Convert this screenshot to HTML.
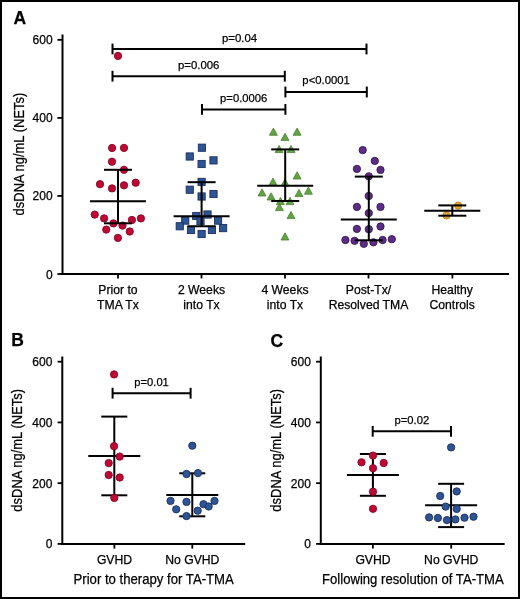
<!DOCTYPE html>
<html><head><meta charset="utf-8"><style>
html,body{margin:0;padding:0;background:#fff;}
svg{display:block;will-change:transform;}
text{font-family:"Liberation Sans",sans-serif;fill:#000;stroke:#000;stroke-width:0.25px;}
</style></head><body>
<svg width="520" height="599" viewBox="0 0 520 599">
<rect x="0" y="0" width="520" height="599" fill="#fff"/>
<text x="13.5" y="24" font-size="17.5" text-anchor="start" font-weight="bold">A</text>
<line x1="62.5" y1="34.5" x2="62.5" y2="275" stroke="#000" stroke-width="2"/>
<line x1="61.5" y1="274" x2="509" y2="274" stroke="#000" stroke-width="2"/>
<line x1="57.4" y1="274.0" x2="62.5" y2="274.0" stroke="#000" stroke-width="1.8"/>
<text x="52.6" y="278.5" font-size="12" text-anchor="end" >0</text>
<line x1="57.4" y1="195.94" x2="62.5" y2="195.94" stroke="#000" stroke-width="1.8"/>
<text x="52.6" y="200.44" font-size="12" text-anchor="end" >200</text>
<line x1="57.4" y1="117.88" x2="62.5" y2="117.88" stroke="#000" stroke-width="1.8"/>
<text x="52.6" y="122.38" font-size="12" text-anchor="end" >400</text>
<line x1="57.4" y1="39.82" x2="62.5" y2="39.82" stroke="#000" stroke-width="1.8"/>
<text x="52.6" y="44.32" font-size="12" text-anchor="end" >600</text>
<line x1="118" y1="274" x2="118" y2="278.5" stroke="#000" stroke-width="1.8"/>
<line x1="201.5" y1="274" x2="201.5" y2="278.5" stroke="#000" stroke-width="1.8"/>
<line x1="285" y1="274" x2="285" y2="278.5" stroke="#000" stroke-width="1.8"/>
<line x1="368.5" y1="274" x2="368.5" y2="278.5" stroke="#000" stroke-width="1.8"/>
<line x1="452.4" y1="274" x2="452.4" y2="278.5" stroke="#000" stroke-width="1.8"/>
<text x="118" y="293.8" font-size="12.2" text-anchor="middle" >Prior to</text>
<text x="118" y="308.6" font-size="12.2" text-anchor="middle" >TMA Tx</text>
<text x="201.5" y="293.8" font-size="12.2" text-anchor="middle" >2 Weeks</text>
<text x="201.5" y="308.6" font-size="12.2" text-anchor="middle" >into Tx</text>
<text x="285" y="293.8" font-size="12.2" text-anchor="middle" >4 Weeks</text>
<text x="285" y="308.6" font-size="12.2" text-anchor="middle" >into Tx</text>
<text x="368.5" y="293.8" font-size="12.2" text-anchor="middle" >Post-Tx/</text>
<text x="368.5" y="308.6" font-size="12.2" text-anchor="middle" >Resolved TMA</text>
<text x="452.2" y="293.8" font-size="12.2" text-anchor="middle" >Healthy</text>
<text x="452.2" y="308.6" font-size="12.2" text-anchor="middle" >Controls</text>
<text x="0" y="0" font-size="14.5" text-anchor="middle" textLength="122.7" lengthAdjust="spacingAndGlyphs" transform="translate(24.3 154.05) rotate(-90)">dsDNA ng/mL (NETs)</text>
<circle cx="118" cy="55.9" r="3.65" fill="#bd0a35" stroke="#8a0426" stroke-width="0.9"/>
<circle cx="112.1" cy="148.0" r="3.65" fill="#bd0a35" stroke="#8a0426" stroke-width="0.9"/>
<circle cx="124" cy="147.9" r="3.65" fill="#bd0a35" stroke="#8a0426" stroke-width="0.9"/>
<circle cx="112" cy="161.7" r="3.65" fill="#bd0a35" stroke="#8a0426" stroke-width="0.9"/>
<circle cx="124" cy="169.8" r="3.65" fill="#bd0a35" stroke="#8a0426" stroke-width="0.9"/>
<circle cx="100" cy="184.2" r="3.65" fill="#bd0a35" stroke="#8a0426" stroke-width="0.9"/>
<circle cx="112" cy="188.4" r="3.65" fill="#bd0a35" stroke="#8a0426" stroke-width="0.9"/>
<circle cx="124" cy="185.3" r="3.65" fill="#bd0a35" stroke="#8a0426" stroke-width="0.9"/>
<circle cx="135.7" cy="182.7" r="3.65" fill="#bd0a35" stroke="#8a0426" stroke-width="0.9"/>
<circle cx="94.75" cy="214.6" r="3.65" fill="#bd0a35" stroke="#8a0426" stroke-width="0.9"/>
<circle cx="104.1" cy="218.4" r="3.65" fill="#bd0a35" stroke="#8a0426" stroke-width="0.9"/>
<circle cx="113.4" cy="223.4" r="3.65" fill="#bd0a35" stroke="#8a0426" stroke-width="0.9"/>
<circle cx="122.5" cy="225.6" r="3.65" fill="#bd0a35" stroke="#8a0426" stroke-width="0.9"/>
<circle cx="131.9" cy="220" r="3.65" fill="#bd0a35" stroke="#8a0426" stroke-width="0.9"/>
<circle cx="140.9" cy="218.4" r="3.65" fill="#bd0a35" stroke="#8a0426" stroke-width="0.9"/>
<circle cx="106.25" cy="229.6" r="3.65" fill="#bd0a35" stroke="#8a0426" stroke-width="0.9"/>
<circle cx="129.75" cy="231.5" r="3.65" fill="#bd0a35" stroke="#8a0426" stroke-width="0.9"/>
<circle cx="117.9" cy="237.9" r="3.65" fill="#bd0a35" stroke="#8a0426" stroke-width="0.9"/>
<rect x="198.3" y="144.1" width="7.2" height="7.2" fill="#2f5494" stroke="#1a3060" stroke-width="0.9"/>
<rect x="186.15" y="152.9" width="7.2" height="7.2" fill="#2f5494" stroke="#1a3060" stroke-width="0.9"/>
<rect x="209.9" y="156.8" width="7.2" height="7.2" fill="#2f5494" stroke="#1a3060" stroke-width="0.9"/>
<rect x="198.0" y="160.4" width="7.2" height="7.2" fill="#2f5494" stroke="#1a3060" stroke-width="0.9"/>
<rect x="198.0" y="178.3" width="7.2" height="7.2" fill="#2f5494" stroke="#1a3060" stroke-width="0.9"/>
<rect x="186.15" y="186.1" width="7.2" height="7.2" fill="#2f5494" stroke="#1a3060" stroke-width="0.9"/>
<rect x="209.9" y="190.4" width="7.2" height="7.2" fill="#2f5494" stroke="#1a3060" stroke-width="0.9"/>
<rect x="198.0" y="192.9" width="7.2" height="7.2" fill="#2f5494" stroke="#1a3060" stroke-width="0.9"/>
<rect x="192.65" y="212.4" width="7.2" height="7.2" fill="#2f5494" stroke="#1a3060" stroke-width="0.9"/>
<rect x="203.9" y="210.9" width="7.2" height="7.2" fill="#2f5494" stroke="#1a3060" stroke-width="0.9"/>
<rect x="181.65" y="217.0" width="7.2" height="7.2" fill="#2f5494" stroke="#1a3060" stroke-width="0.9"/>
<rect x="196.9" y="217.4" width="7.2" height="7.2" fill="#2f5494" stroke="#1a3060" stroke-width="0.9"/>
<rect x="214.5" y="217.0" width="7.2" height="7.2" fill="#2f5494" stroke="#1a3060" stroke-width="0.9"/>
<rect x="176.15" y="222.65" width="7.2" height="7.2" fill="#2f5494" stroke="#1a3060" stroke-width="0.9"/>
<rect x="187.4" y="226.4" width="7.2" height="7.2" fill="#2f5494" stroke="#1a3060" stroke-width="0.9"/>
<rect x="208.3" y="226.4" width="7.2" height="7.2" fill="#2f5494" stroke="#1a3060" stroke-width="0.9"/>
<rect x="219.5" y="224.5" width="7.2" height="7.2" fill="#2f5494" stroke="#1a3060" stroke-width="0.9"/>
<rect x="198.0" y="230.4" width="7.2" height="7.2" fill="#2f5494" stroke="#1a3060" stroke-width="0.9"/>
<path d="M273.4 128.1L277.4 135.29999999999998L269.4 135.29999999999998Z" fill="#62a343" stroke="#4a8232" stroke-width="0.8" stroke-linejoin="round"/>
<path d="M297.1 128.1L301.1 135.29999999999998L293.1 135.29999999999998Z" fill="#62a343" stroke="#4a8232" stroke-width="0.8" stroke-linejoin="round"/>
<path d="M285 133.20000000000002L289.0 140.4L281.0 140.4Z" fill="#62a343" stroke="#4a8232" stroke-width="0.8" stroke-linejoin="round"/>
<path d="M279.1 145.4L283.1 152.6L275.1 152.6Z" fill="#62a343" stroke="#4a8232" stroke-width="0.8" stroke-linejoin="round"/>
<path d="M291 145.4L295.0 152.6L287.0 152.6Z" fill="#62a343" stroke="#4a8232" stroke-width="0.8" stroke-linejoin="round"/>
<path d="M297.1 171.8L301.1 179.0L293.1 179.0Z" fill="#62a343" stroke="#4a8232" stroke-width="0.8" stroke-linejoin="round"/>
<path d="M273 178.1L277.0 185.29999999999998L269.0 185.29999999999998Z" fill="#62a343" stroke="#4a8232" stroke-width="0.8" stroke-linejoin="round"/>
<path d="M285 178.8L289.0 186.0L281.0 186.0Z" fill="#62a343" stroke="#4a8232" stroke-width="0.8" stroke-linejoin="round"/>
<path d="M262 188.8L266.0 196.0L258.0 196.0Z" fill="#62a343" stroke="#4a8232" stroke-width="0.8" stroke-linejoin="round"/>
<path d="M271 192.8L275.0 200.0L267.0 200.0Z" fill="#62a343" stroke="#4a8232" stroke-width="0.8" stroke-linejoin="round"/>
<path d="M299 189.4L303.0 196.6L295.0 196.6Z" fill="#62a343" stroke="#4a8232" stroke-width="0.8" stroke-linejoin="round"/>
<path d="M308.4 187.0L312.4 194.2L304.4 194.2Z" fill="#62a343" stroke="#4a8232" stroke-width="0.8" stroke-linejoin="round"/>
<path d="M280.4 197.4L284.4 204.6L276.4 204.6Z" fill="#62a343" stroke="#4a8232" stroke-width="0.8" stroke-linejoin="round"/>
<path d="M290 197.4L294.0 204.6L286.0 204.6Z" fill="#62a343" stroke="#4a8232" stroke-width="0.8" stroke-linejoin="round"/>
<path d="M279.4 203.4L283.4 210.6L275.4 210.6Z" fill="#62a343" stroke="#4a8232" stroke-width="0.8" stroke-linejoin="round"/>
<path d="M291 211.4L295.0 218.6L287.0 218.6Z" fill="#62a343" stroke="#4a8232" stroke-width="0.8" stroke-linejoin="round"/>
<path d="M285 232.8L289.0 240.0L281.0 240.0Z" fill="#62a343" stroke="#4a8232" stroke-width="0.8" stroke-linejoin="round"/>
<circle cx="362.7" cy="150.1" r="3.65" fill="#5e2c85" stroke="#3a1656" stroke-width="0.9"/>
<circle cx="374.8" cy="160.9" r="3.65" fill="#5e2c85" stroke="#3a1656" stroke-width="0.9"/>
<circle cx="356.9" cy="168.9" r="3.65" fill="#5e2c85" stroke="#3a1656" stroke-width="0.9"/>
<circle cx="380.5" cy="169.9" r="3.65" fill="#5e2c85" stroke="#3a1656" stroke-width="0.9"/>
<circle cx="368.8" cy="176.3" r="3.65" fill="#5e2c85" stroke="#3a1656" stroke-width="0.9"/>
<circle cx="368.8" cy="196" r="3.65" fill="#5e2c85" stroke="#3a1656" stroke-width="0.9"/>
<circle cx="356.9" cy="206.9" r="3.65" fill="#5e2c85" stroke="#3a1656" stroke-width="0.9"/>
<circle cx="380.5" cy="206.9" r="3.65" fill="#5e2c85" stroke="#3a1656" stroke-width="0.9"/>
<circle cx="368.8" cy="213.1" r="3.65" fill="#5e2c85" stroke="#3a1656" stroke-width="0.9"/>
<circle cx="356.9" cy="228.9" r="3.65" fill="#5e2c85" stroke="#3a1656" stroke-width="0.9"/>
<circle cx="368.8" cy="229.2" r="3.65" fill="#5e2c85" stroke="#3a1656" stroke-width="0.9"/>
<circle cx="380.5" cy="226.5" r="3.65" fill="#5e2c85" stroke="#3a1656" stroke-width="0.9"/>
<circle cx="345.4" cy="240" r="3.65" fill="#5e2c85" stroke="#3a1656" stroke-width="0.9"/>
<circle cx="354.6" cy="240.8" r="3.65" fill="#5e2c85" stroke="#3a1656" stroke-width="0.9"/>
<circle cx="363.8" cy="243.8" r="3.65" fill="#5e2c85" stroke="#3a1656" stroke-width="0.9"/>
<circle cx="373.4" cy="242.3" r="3.65" fill="#5e2c85" stroke="#3a1656" stroke-width="0.9"/>
<circle cx="382.6" cy="240" r="3.65" fill="#5e2c85" stroke="#3a1656" stroke-width="0.9"/>
<circle cx="391.8" cy="239.2" r="3.65" fill="#5e2c85" stroke="#3a1656" stroke-width="0.9"/>
<circle cx="458.1" cy="205.6" r="3.65" fill="#e3a332" stroke="#c4851f" stroke-width="0.9"/>
<circle cx="446.5" cy="215.4" r="3.65" fill="#e3a332" stroke="#c4851f" stroke-width="0.9"/>
<line x1="118" y1="169.8" x2="118" y2="223.3" stroke="#000" stroke-width="2"/>
<line x1="104.0" y1="169.8" x2="132.0" y2="169.8" stroke="#000" stroke-width="2"/>
<line x1="104.0" y1="223.3" x2="132.0" y2="223.3" stroke="#000" stroke-width="2"/>
<line x1="90.0" y1="201.2" x2="146.0" y2="201.2" stroke="#000" stroke-width="2"/>
<line x1="201.6" y1="182.2" x2="201.6" y2="226.25" stroke="#000" stroke-width="2"/>
<line x1="187.6" y1="182.2" x2="215.6" y2="182.2" stroke="#000" stroke-width="2"/>
<line x1="187.6" y1="226.25" x2="215.6" y2="226.25" stroke="#000" stroke-width="2"/>
<line x1="173.6" y1="216.25" x2="229.6" y2="216.25" stroke="#000" stroke-width="2"/>
<line x1="285.2" y1="149.4" x2="285.2" y2="201" stroke="#000" stroke-width="2"/>
<line x1="271.2" y1="149.4" x2="299.2" y2="149.4" stroke="#000" stroke-width="2"/>
<line x1="271.2" y1="201" x2="299.2" y2="201" stroke="#000" stroke-width="2"/>
<line x1="257.2" y1="185.7" x2="313.2" y2="185.7" stroke="#000" stroke-width="2"/>
<line x1="368.8" y1="176.6" x2="368.8" y2="240.3" stroke="#000" stroke-width="2"/>
<line x1="354.8" y1="176.6" x2="382.8" y2="176.6" stroke="#000" stroke-width="2"/>
<line x1="354.8" y1="240.3" x2="382.8" y2="240.3" stroke="#000" stroke-width="2"/>
<line x1="340.8" y1="219.5" x2="396.8" y2="219.5" stroke="#000" stroke-width="2"/>
<line x1="452.3" y1="205.4" x2="452.3" y2="215.7" stroke="#000" stroke-width="2"/>
<line x1="438.3" y1="205.4" x2="466.3" y2="205.4" stroke="#000" stroke-width="2"/>
<line x1="438.3" y1="215.7" x2="466.3" y2="215.7" stroke="#000" stroke-width="2"/>
<line x1="424.3" y1="210.8" x2="480.3" y2="210.8" stroke="#000" stroke-width="2"/>
<line x1="112.5" y1="49" x2="366.5" y2="49" stroke="#000" stroke-width="2"/>
<line x1="112.5" y1="43.6" x2="112.5" y2="54.4" stroke="#000" stroke-width="2"/>
<line x1="366.5" y1="43.6" x2="366.5" y2="54.4" stroke="#000" stroke-width="2"/>
<text x="239.5" y="41.9" font-size="11.5" text-anchor="middle" textLength="35.2" lengthAdjust="spacingAndGlyphs">p=0.04</text>
<line x1="112.5" y1="76.2" x2="284.8" y2="76.2" stroke="#000" stroke-width="2"/>
<line x1="112.5" y1="70.8" x2="112.5" y2="81.60000000000001" stroke="#000" stroke-width="2"/>
<line x1="284.8" y1="70.8" x2="284.8" y2="81.60000000000001" stroke="#000" stroke-width="2"/>
<text x="198.65" y="68.5" font-size="11.5" text-anchor="middle" textLength="41.5" lengthAdjust="spacingAndGlyphs">p=0.006</text>
<line x1="202" y1="109.4" x2="285.4" y2="109.4" stroke="#000" stroke-width="2"/>
<line x1="202" y1="104.0" x2="202" y2="114.80000000000001" stroke="#000" stroke-width="2"/>
<line x1="285.4" y1="104.0" x2="285.4" y2="114.80000000000001" stroke="#000" stroke-width="2"/>
<text x="243.7" y="102.2" font-size="11.5" text-anchor="middle" textLength="47.2" lengthAdjust="spacingAndGlyphs">p=0.0006</text>
<line x1="285.4" y1="92" x2="366.8" y2="92" stroke="#000" stroke-width="2"/>
<line x1="285.4" y1="86.6" x2="285.4" y2="97.4" stroke="#000" stroke-width="2"/>
<line x1="366.8" y1="86.6" x2="366.8" y2="97.4" stroke="#000" stroke-width="2"/>
<text x="326.1" y="84.4" font-size="11.5" text-anchor="middle" textLength="47.5" lengthAdjust="spacingAndGlyphs">p&lt;0.0001</text>
<text x="11.3" y="345.8" font-size="17.5" text-anchor="start" font-weight="bold">B</text>
<line x1="62.3" y1="356.5" x2="62.3" y2="544.9" stroke="#000" stroke-width="2"/>
<line x1="61.3" y1="543.9" x2="245.2" y2="543.9" stroke="#000" stroke-width="2"/>
<line x1="57.6" y1="543.9" x2="62.3" y2="543.9" stroke="#000" stroke-width="1.8"/>
<text x="52.4" y="548.4" font-size="12" text-anchor="end" >0</text>
<line x1="57.6" y1="483.17" x2="62.3" y2="483.17" stroke="#000" stroke-width="1.8"/>
<text x="52.4" y="487.67" font-size="12" text-anchor="end" >200</text>
<line x1="57.6" y1="422.43" x2="62.3" y2="422.43" stroke="#000" stroke-width="1.8"/>
<text x="52.4" y="426.93" font-size="12" text-anchor="end" >400</text>
<line x1="57.6" y1="361.7" x2="62.3" y2="361.7" stroke="#000" stroke-width="1.8"/>
<text x="52.4" y="366.2" font-size="12" text-anchor="end" >600</text>
<line x1="114.4" y1="543.9" x2="114.4" y2="548.6" stroke="#000" stroke-width="1.8"/>
<line x1="192.3" y1="543.9" x2="192.3" y2="548.6" stroke="#000" stroke-width="1.8"/>
<text x="114.5" y="564.1" font-size="12.2" text-anchor="middle" >GVHD</text>
<text x="192.3" y="564.1" font-size="12.2" text-anchor="middle" >No GVHD</text>
<text x="73.5" y="583.6" font-size="14.5" text-anchor="start" textLength="160.3" lengthAdjust="spacingAndGlyphs">Prior to therapy for TA-TMA</text>
<text x="0" y="0" font-size="14.5" text-anchor="middle" textLength="122.7" lengthAdjust="spacingAndGlyphs" transform="translate(21.9 450.3) rotate(-90)">dsDNA ng/mL (NETs)</text>
<line x1="114.3" y1="416.6" x2="114.3" y2="495.3" stroke="#000" stroke-width="2"/>
<line x1="101.3" y1="416.6" x2="127.3" y2="416.6" stroke="#000" stroke-width="2"/>
<line x1="101.3" y1="495.3" x2="127.3" y2="495.3" stroke="#000" stroke-width="2"/>
<line x1="88.3" y1="456.1" x2="140.3" y2="456.1" stroke="#000" stroke-width="2"/>
<line x1="192.3" y1="473.3" x2="192.3" y2="516.3" stroke="#000" stroke-width="2"/>
<line x1="179.3" y1="473.3" x2="205.3" y2="473.3" stroke="#000" stroke-width="2"/>
<line x1="179.3" y1="516.3" x2="205.3" y2="516.3" stroke="#000" stroke-width="2"/>
<line x1="166.3" y1="494.9" x2="218.3" y2="494.9" stroke="#000" stroke-width="2"/>
<circle cx="114.05" cy="374.4" r="3.65" fill="#bd0a35" stroke="#8a0426" stroke-width="0.9"/>
<circle cx="114.05" cy="446.2" r="3.65" fill="#bd0a35" stroke="#8a0426" stroke-width="0.9"/>
<circle cx="119.7" cy="456.6" r="3.65" fill="#bd0a35" stroke="#8a0426" stroke-width="0.9"/>
<circle cx="108.7" cy="463.1" r="3.65" fill="#bd0a35" stroke="#8a0426" stroke-width="0.9"/>
<circle cx="108.7" cy="475" r="3.65" fill="#bd0a35" stroke="#8a0426" stroke-width="0.9"/>
<circle cx="119.7" cy="477.5" r="3.65" fill="#bd0a35" stroke="#8a0426" stroke-width="0.9"/>
<circle cx="114.3" cy="497.9" r="3.65" fill="#bd0a35" stroke="#8a0426" stroke-width="0.9"/>
<circle cx="192.3" cy="445.7" r="3.65" fill="#2f5494" stroke="#1a3060" stroke-width="0.9"/>
<circle cx="186.5" cy="474" r="3.65" fill="#2f5494" stroke="#1a3060" stroke-width="0.9"/>
<circle cx="198" cy="473.1" r="3.65" fill="#2f5494" stroke="#1a3060" stroke-width="0.9"/>
<circle cx="170.5" cy="500.9" r="3.65" fill="#2f5494" stroke="#1a3060" stroke-width="0.9"/>
<circle cx="186.5" cy="501.9" r="3.65" fill="#2f5494" stroke="#1a3060" stroke-width="0.9"/>
<circle cx="176.2" cy="509.3" r="3.65" fill="#2f5494" stroke="#1a3060" stroke-width="0.9"/>
<circle cx="197.7" cy="510.7" r="3.65" fill="#2f5494" stroke="#1a3060" stroke-width="0.9"/>
<circle cx="203.5" cy="504.2" r="3.65" fill="#2f5494" stroke="#1a3060" stroke-width="0.9"/>
<circle cx="208.7" cy="506.5" r="3.65" fill="#2f5494" stroke="#1a3060" stroke-width="0.9"/>
<circle cx="214.5" cy="500.9" r="3.65" fill="#2f5494" stroke="#1a3060" stroke-width="0.9"/>
<circle cx="186.5" cy="516.1" r="3.65" fill="#2f5494" stroke="#1a3060" stroke-width="0.9"/>
<line x1="112.6" y1="393.2" x2="190.6" y2="393.2" stroke="#000" stroke-width="2"/>
<line x1="112.6" y1="387.8" x2="112.6" y2="398.59999999999997" stroke="#000" stroke-width="2"/>
<line x1="190.6" y1="387.8" x2="190.6" y2="398.59999999999997" stroke="#000" stroke-width="2"/>
<text x="151.6" y="386.2" font-size="11.5" text-anchor="middle" textLength="34.5" lengthAdjust="spacingAndGlyphs">p=0.01</text>
<text x="270.6" y="346.5" font-size="17.5" text-anchor="start" font-weight="bold">C</text>
<line x1="320.8" y1="356.5" x2="320.8" y2="544.9" stroke="#000" stroke-width="2"/>
<line x1="319.8" y1="543.9" x2="504.7" y2="543.9" stroke="#000" stroke-width="2"/>
<line x1="316.1" y1="543.9" x2="320.8" y2="543.9" stroke="#000" stroke-width="1.8"/>
<text x="310.9" y="548.4" font-size="12" text-anchor="end" >0</text>
<line x1="316.1" y1="483.17" x2="320.8" y2="483.17" stroke="#000" stroke-width="1.8"/>
<text x="310.9" y="487.67" font-size="12" text-anchor="end" >200</text>
<line x1="316.1" y1="422.43" x2="320.8" y2="422.43" stroke="#000" stroke-width="1.8"/>
<text x="310.9" y="426.93" font-size="12" text-anchor="end" >400</text>
<line x1="316.1" y1="361.7" x2="320.8" y2="361.7" stroke="#000" stroke-width="1.8"/>
<text x="310.9" y="366.2" font-size="12" text-anchor="end" >600</text>
<line x1="372.9" y1="543.9" x2="372.9" y2="548.6" stroke="#000" stroke-width="1.8"/>
<line x1="451.2" y1="543.9" x2="451.2" y2="548.6" stroke="#000" stroke-width="1.8"/>
<text x="373.0" y="564.1" font-size="12.2" text-anchor="middle" >GVHD</text>
<text x="451.2" y="564.1" font-size="12.2" text-anchor="middle" >No GVHD</text>
<text x="322" y="583.6" font-size="14.5" text-anchor="start" textLength="181.7" lengthAdjust="spacingAndGlyphs">Following resolution of TA-TMA</text>
<text x="0" y="0" font-size="14.5" text-anchor="middle" textLength="122.7" lengthAdjust="spacingAndGlyphs" transform="translate(280.9 450.3) rotate(-90)">dsDNA ng/mL (NETs)</text>
<line x1="372.9" y1="454" x2="372.9" y2="495.8" stroke="#000" stroke-width="2"/>
<line x1="359.9" y1="454" x2="385.9" y2="454" stroke="#000" stroke-width="2"/>
<line x1="359.9" y1="495.8" x2="385.9" y2="495.8" stroke="#000" stroke-width="2"/>
<line x1="346.9" y1="474.9" x2="398.9" y2="474.9" stroke="#000" stroke-width="2"/>
<line x1="451.1" y1="483.8" x2="451.1" y2="527.1" stroke="#000" stroke-width="2"/>
<line x1="438.1" y1="483.8" x2="464.1" y2="483.8" stroke="#000" stroke-width="2"/>
<line x1="438.1" y1="527.1" x2="464.1" y2="527.1" stroke="#000" stroke-width="2"/>
<line x1="425.1" y1="505.2" x2="477.1" y2="505.2" stroke="#000" stroke-width="2"/>
<circle cx="373" cy="455.6" r="3.65" fill="#bd0a35" stroke="#8a0426" stroke-width="0.9"/>
<circle cx="361.5" cy="462.3" r="3.65" fill="#bd0a35" stroke="#8a0426" stroke-width="0.9"/>
<circle cx="383.7" cy="463" r="3.65" fill="#bd0a35" stroke="#8a0426" stroke-width="0.9"/>
<circle cx="373" cy="468.2" r="3.65" fill="#bd0a35" stroke="#8a0426" stroke-width="0.9"/>
<circle cx="373" cy="491.7" r="3.65" fill="#bd0a35" stroke="#8a0426" stroke-width="0.9"/>
<circle cx="373" cy="508.8" r="3.65" fill="#bd0a35" stroke="#8a0426" stroke-width="0.9"/>
<circle cx="451.1" cy="447.4" r="3.65" fill="#2f5494" stroke="#1a3060" stroke-width="0.9"/>
<circle cx="456.7" cy="491.4" r="3.65" fill="#2f5494" stroke="#1a3060" stroke-width="0.9"/>
<circle cx="440.2" cy="496" r="3.65" fill="#2f5494" stroke="#1a3060" stroke-width="0.9"/>
<circle cx="445.7" cy="506.6" r="3.65" fill="#2f5494" stroke="#1a3060" stroke-width="0.9"/>
<circle cx="456.7" cy="508.9" r="3.65" fill="#2f5494" stroke="#1a3060" stroke-width="0.9"/>
<circle cx="429.1" cy="517.4" r="3.65" fill="#2f5494" stroke="#1a3060" stroke-width="0.9"/>
<circle cx="437.9" cy="518" r="3.65" fill="#2f5494" stroke="#1a3060" stroke-width="0.9"/>
<circle cx="446.9" cy="520.1" r="3.65" fill="#2f5494" stroke="#1a3060" stroke-width="0.9"/>
<circle cx="455.4" cy="519.4" r="3.65" fill="#2f5494" stroke="#1a3060" stroke-width="0.9"/>
<circle cx="464.5" cy="517.7" r="3.65" fill="#2f5494" stroke="#1a3060" stroke-width="0.9"/>
<circle cx="473.5" cy="516.7" r="3.65" fill="#2f5494" stroke="#1a3060" stroke-width="0.9"/>
<line x1="372.7" y1="431.3" x2="451" y2="431.3" stroke="#000" stroke-width="2"/>
<line x1="372.7" y1="425.90000000000003" x2="372.7" y2="436.7" stroke="#000" stroke-width="2"/>
<line x1="451" y1="425.90000000000003" x2="451" y2="436.7" stroke="#000" stroke-width="2"/>
<text x="411.85" y="423.9" font-size="11.5" text-anchor="middle" textLength="34.6" lengthAdjust="spacingAndGlyphs">p=0.02</text>
<rect x="1" y="1" width="518" height="597" fill="none" stroke="#000" stroke-width="2"/>
</svg>
</body></html>
